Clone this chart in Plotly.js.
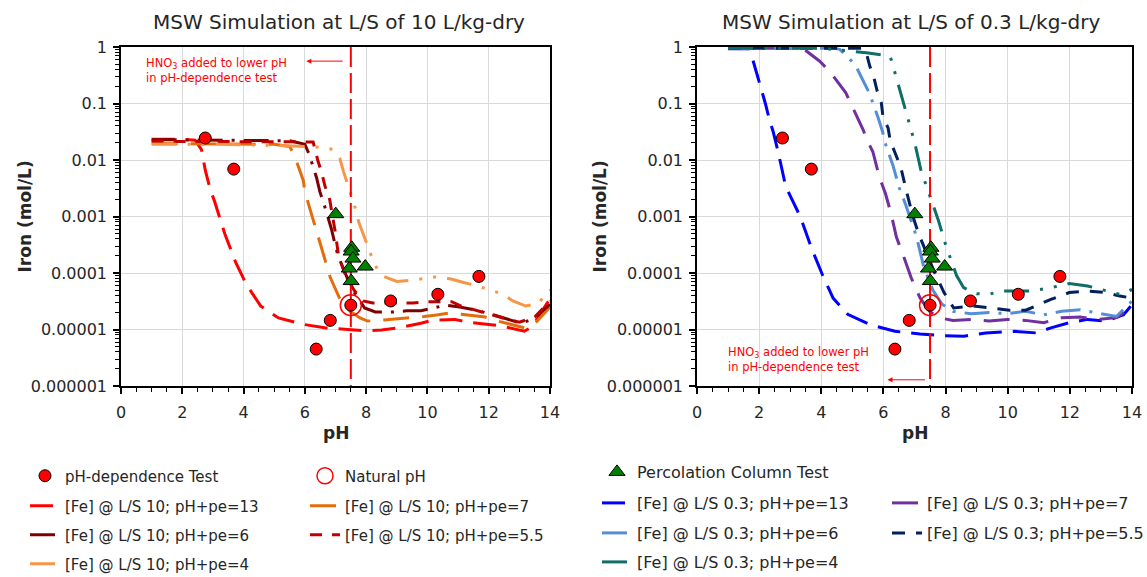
<!DOCTYPE html>
<html><head><meta charset="utf-8">
<script src="https://cdn.plot.ly/plotly-3.0.1.min.js"></script>
<style>html,body{margin:0;padding:0;background:#fff}#chart{width:1147px;height:577px}</style>
</head><body><div id="chart"></div>
<script>
// ---------- measured points ----------
const phDep_pH = [2.75, 3.68, 6.37, 6.83, 7.5, 8.8, 10.34, 11.68];
const phDep_fe = [0.0245, 0.0069, 4.5e-6, 1.45e-5, 2.7e-5, 3.2e-5, 4.2e-5, 8.7e-5];
const natural_pH = [7.5];
const natural_fe = [2.7e-5];
const perc_pH = [7.01, 7.53, 7.51, 7.57, 7.45, 7.51, 7.97];
const perc_fe = [1.1e-3, 2.8e-4, 2.4e-4, 1.8e-4, 1.2e-4, 7.2e-5, 1.3e-4];

// ---------- L/S 10 simulations ----------
const ls10_pe13_pH = [1, 2.0, 2.42, 2.63, 2.75, 2.92, 3.04, 3.39, 3.74, 4.09, 4.56, 5.14, 5.96, 6.65, 7.4, 8.0, 8.5, 9.05, 9.79, 10.16, 10.89, 11.32, 12.0, 12.42, 13.16, 13.42, 13.9, 14];
const ls10_pe13_fe = [0.0234, 0.0234, 0.0224, 0.0151, 0.0066, 0.0029, 0.00195, 0.00049, 0.000155, 6.3e-5, 2.6e-5, 1.6e-5, 1.23e-5, 1.07e-5, 1.0e-5, 9.5e-6, 9.8e-6, 1.07e-5, 1.29e-5, 1.45e-5, 1.51e-5, 1.35e-5, 1.23e-5, 1.15e-5, 9.3e-6, 1.12e-5, 2.9e-5, 3.4e-5];

const ls10_pe7_pH = [1, 3, 5.0, 5.5, 5.64, 5.8, 5.95, 6.0, 6.12, 6.25, 6.36, 6.48, 6.59, 6.83, 7.13, 7.48, 7.8, 8.05, 8.58, 9.0, 9.42, 9.89, 10.3, 10.68, 11.1, 11.5, 11.89, 12.37, 12.8, 13.16, 13.5, 14];
const ls10_pe7_fe = [0.0195, 0.0195, 0.019, 0.0174, 0.0126, 0.0074, 0.0043, 0.00275, 0.00166, 0.00098, 0.00062, 0.00037, 0.00022, 8.3e-5, 3.6e-5, 2.1e-5, 1.6e-5, 1.41e-5, 1.48e-5, 1.55e-5, 1.58e-5, 1.7e-5, 1.8e-5, 1.95e-5, 1.86e-5, 1.75e-5, 1.66e-5, 1.38e-5, 1.2e-5, 1.07e-5, 1.26e-5, 2.5e-5];

const ls10_pe6_pH = [1, 3, 5.5, 6.0, 6.14, 6.38, 6.49, 6.63, 6.86, 6.97, 7.08, 7.3, 7.51, 7.75, 7.95, 8.3, 8.53, 8.89, 9.32, 9.79, 10.2, 10.58, 11.05, 11.53, 12.1, 12.74, 13.05, 13.5, 13.9, 14];
const ls10_pe6_fe = [0.0229, 0.0224, 0.0219, 0.019, 0.0126, 0.0049, 0.00275, 0.00162, 0.00062, 0.00035, 0.000204, 0.000105, 5.5e-5, 3.55e-5, 2.4e-5, 2.04e-5, 2.04e-5, 2.04e-5, 2.14e-5, 2.14e-5, 2.4e-5, 2.7e-5, 2.5e-5, 2.24e-5, 1.86e-5, 1.48e-5, 1.29e-5, 1.58e-5, 2.5e-5, 2.8e-5];

const ls10_pe55_pH = [1, 3, 5.5, 6.27, 6.43, 6.54, 6.65, 6.81, 7.0, 7.1, 7.3, 7.6, 7.9, 8.22, 8.65, 9.16, 9.53, 10.0, 10.32, 10.79, 11.1, 11.5, 12.0, 12.5, 13.0, 13.5, 14];
const ls10_pe55_fe = [0.0214, 0.0214, 0.0214, 0.0209, 0.0095, 0.0063, 0.00355, 0.002, 0.0005, 0.0002, 0.0001, 5.0e-5, 3.2e-5, 2.95e-5, 2.95e-5, 2.95e-5, 2.95e-5, 3.1e-5, 3.1e-5, 3.1e-5, 2.6e-5, 2.24e-5, 1.9e-5, 1.58e-5, 1.35e-5, 1.66e-5, 3.2e-5];

const ls10_pe4_pH = [1, 3, 5, 6.0, 6.4, 6.84, 7.14, 7.26, 7.38, 7.51, 7.65, 7.76, 7.91, 8.06, 8.22, 8.4, 8.58, 9.0, 9.47, 10.26, 10.74, 11.18, 11.63, 12.42, 12.79, 13.21, 13.63, 13.9, 14];
const ls10_pe4_fe = [0.019, 0.019, 0.0182, 0.0174, 0.017, 0.0158, 0.0107, 0.0063, 0.004, 0.0024, 0.00138, 0.00079, 0.00048, 0.00028, 0.00017, 0.000105, 8.7e-5, 7.1e-5, 7.4e-5, 8.5e-5, 7.9e-5, 6.8e-5, 5.9e-5, 4.3e-5, 3.2e-5, 2.6e-5, 2.9e-5, 4.6e-5, 5.0e-5];

// ---------- L/S 0.3 simulations ----------
const ls03_pe13_pH = [1, 1.7, 1.81, 2.0, 2.2, 2.34, 2.45, 2.61, 2.85, 3.02, 3.33, 3.68, 4.03, 4.38, 4.85, 5.55, 6.37, 7.18, 7.89, 8.59, 9.29, 10.22, 10.92, 11.39, 11.98, 12.57, 13.15, 13.73, 14];
const ls03_pe13_fe = [0.93, 0.93, 0.56, 0.25, 0.1, 0.049, 0.032, 0.014, 0.0035, 0.0022, 0.00098, 0.00028, 9.5e-5, 3.6e-5, 1.86e-5, 1.23e-5, 9.3e-6, 8.3e-6, 7.8e-6, 7.6e-6, 8.7e-6, 9.3e-6, 8.7e-6, 1.07e-5, 1.32e-5, 1.51e-5, 1.41e-5, 1.82e-5, 2.75e-5];

const ls03_pe7_pH = [1, 3.41, 3.52, 3.95, 4.27, 4.79, 4.97, 5.34, 5.5, 5.66, 5.87, 6.07, 6.25, 6.42, 6.66, 6.89, 7.18, 7.48, 7.77, 8.24, 8.82, 9.4, 9.99, 10.57, 11.16, 11.74, 12.33, 12.91, 13.5, 14];
const ls03_pe7_fe = [0.955, 0.955, 0.85, 0.56, 0.37, 0.155, 0.095, 0.035, 0.021, 0.014, 0.005, 0.0025, 0.0011, 0.00043, 0.00019, 8.3e-5, 3.6e-5, 2.1e-5, 1.62e-5, 1.45e-5, 1.51e-5, 1.41e-5, 1.51e-5, 1.45e-5, 1.32e-5, 1.62e-5, 1.66e-5, 1.51e-5, 1.62e-5, 2.5e-5];

const ls03_pe6_pH = [1, 4.4, 4.59, 4.9, 5.13, 5.34, 5.54, 5.83, 5.97, 6.07, 6.31, 6.51, 6.72, 7.07, 7.3, 7.59, 7.89, 8.24, 8.82, 9.4, 9.99, 10.57, 11.16, 11.74, 12.33, 12.91, 13.5, 14];
const ls03_pe6_fe = [0.955, 0.955, 0.91, 0.63, 0.44, 0.26, 0.155, 0.056, 0.032, 0.019, 0.0079, 0.0032, 0.0016, 0.00043, 0.000126, 5.0e-5, 2.8e-5, 2.1e-5, 1.9e-5, 2.0e-5, 1.9e-5, 2.1e-5, 1.82e-5, 2.1e-5, 2.24e-5, 1.95e-5, 1.7e-5, 3.2e-5];

const ls03_pe55_pH = [1, 5.34, 5.45, 5.56, 5.69, 5.8, 5.93, 5.99, 6.15, 6.22, 6.36, 6.56, 6.74, 6.95, 7.13, 7.36, 7.63, 7.95, 8.26, 8.89, 9.5, 10.05, 10.58, 11.1, 11.39, 11.98, 12.57, 13.15, 13.61, 14];
const ls03_pe55_fe = [0.955, 0.955, 0.79, 0.46, 0.29, 0.166, 0.105, 0.056, 0.037, 0.022, 0.014, 0.0074, 0.0028, 0.001, 0.0005, 0.00025, 0.000107, 4.5e-5, 2.4e-5, 2.6e-5, 2.4e-5, 2.2e-5, 2.2e-5, 2.95e-5, 3.4e-5, 4.5e-5, 4.8e-5, 4.5e-5, 3.9e-5, 3.6e-5];

const ls03_pe4_pH = [1, 4.0, 5.45, 5.9, 6.2, 6.25, 6.39, 6.52, 6.63, 6.9, 7.0, 7.21, 7.48, 7.77, 8.0, 8.18, 8.35, 8.58, 9.0, 9.4, 9.79, 10.26, 10.74, 11.39, 11.98, 12.57, 13.15, 13.61, 14];
const ls03_pe4_fe = [0.955, 0.955, 0.79, 0.74, 0.69, 0.6, 0.32, 0.186, 0.11, 0.036, 0.021, 0.0065, 0.00245, 0.00085, 0.00032, 0.000166, 9.1e-5, 5.5e-5, 4.3e-5, 4.2e-5, 4.8e-5, 4.8e-5, 4.8e-5, 5.5e-5, 6.5e-5, 5.9e-5, 4.8e-5, 4.2e-5, 5.1e-5];

// ---------- axes ticks ----------
const xTickVals = [0, 2, 4, 6, 8, 10, 12, 14];
const yTickVals = [1e-6, 1e-5, 1e-4, 1e-3, 1e-2, 1e-1, 1];
const yTickText = ['0.000001', '0.00001', '0.0001', '0.001', '0.01', '0.1', '1'];
const yMinorVals = [];
for (let e = -6; e < 0; e++) for (let m = 2; m <= 9; m++) yMinorVals.push(m * Math.pow(10, e));

const FONT = 'DejaVu Sans';
const TXT = '#262626';

function line(x, y, name, color, dash, xa, ya, legend) {
  return {type: 'scatter', mode: 'lines', x: x, y: y, name: name, xaxis: xa, yaxis: ya, legend: legend,
    line: {color: color, width: 3, dash: dash}, hoverinfo: 'x+y+name'};
}
const D13 = '23px,11px', D7 = '26px,13px', D6 = '25px,9px,3px,9px', D55 = '12px,10px', D4 = '25px,11px,3px,11px,3px,11px';

const vLine = (xa, ya) => ({type: 'scatter', mode: 'lines', x: [natural_pH[0], natural_pH[0]], y: [1, 1e-6],
  xaxis: xa, yaxis: ya, showlegend: false, line: {color: '#FF0000', width: 2, dash: '20px,6px'}, hoverinfo: 'skip'});
const dep = (xa, ya, show) => ({type: 'scatter', mode: 'markers', x: phDep_pH, y: phDep_fe, name: 'pH-dependence Test',
  xaxis: xa, yaxis: ya, showlegend: show, legend: 'legend',
  marker: {symbol: 'circle', size: 12, color: '#FF0000', line: {color: '#000', width: 1}}});
const nat = (xa, ya, show) => ({type: 'scatter', mode: 'markers', x: natural_pH, y: natural_fe, name: 'Natural pH',
  xaxis: xa, yaxis: ya, showlegend: show, legend: 'legend',
  marker: {symbol: 'circle-open', size: 21, color: '#FF0000', line: {color: '#FF0000', width: 1.5}}});
const perc = (xa, ya, show) => ({type: 'scatter', mode: 'markers', x: perc_pH, y: perc_fe, name: 'Percolation Column Test',
  xaxis: xa, yaxis: ya, showlegend: show, legend: 'legend5',
  marker: {symbol: 'triangle-up', size: 14, color: '#008000', line: {color: '#000', width: 1}}});

const data = [
  line(ls10_pe13_pH, ls10_pe13_fe, '[Fe] @ L/S 10; pH+pe=13', '#FF0000', D13, 'x', 'y', 'legend2'),
  line(ls10_pe7_pH, ls10_pe7_fe, '[Fe] @ L/S 10; pH+pe=7', '#E46C0A', D7, 'x', 'y', 'legend2'),
  line(ls10_pe6_pH, ls10_pe6_fe, '[Fe] @ L/S 10; pH+pe=6', '#7F0000', D6, 'x', 'y', 'legend3'),
  line(ls10_pe55_pH, ls10_pe55_fe, '[Fe] @ L/S 10; pH+pe=5.5', '#C00000', D55, 'x', 'y', 'legend3'),
  line(ls10_pe4_pH, ls10_pe4_fe, '[Fe] @ L/S 10; pH+pe=4', '#F79646', D4, 'x', 'y', 'legend4'),
  vLine('x', 'y'),
  perc('x', 'y', false),
  dep('x', 'y', true),
  nat('x', 'y', true),
  line(ls03_pe13_pH, ls03_pe13_fe, '[Fe] @ L/S 0.3; pH+pe=13', '#0000FF', D13, 'x2', 'y2', 'legend6'),
  line(ls03_pe7_pH, ls03_pe7_fe, '[Fe] @ L/S 0.3; pH+pe=7', '#7030A0', D7, 'x2', 'y2', 'legend6'),
  line(ls03_pe6_pH, ls03_pe6_fe, '[Fe] @ L/S 0.3; pH+pe=6', '#558ED5', D6, 'x2', 'y2', 'legend7'),
  line(ls03_pe55_pH, ls03_pe55_fe, '[Fe] @ L/S 0.3; pH+pe=5.5', '#002060', '13px,11px', 'x2', 'y2', 'legend7'),
  line(ls03_pe4_pH, ls03_pe4_fe, '[Fe] @ L/S 0.3; pH+pe=4', '#0F6E68', D4, 'x2', 'y2', 'legend8'),
  vLine('x2', 'y2'),
  perc('x2', 'y2', true),
  dep('x2', 'y2', false),
  nat('x2', 'y2', false)
];

const W = 1147, H = 577;
const px = v => v / W, py = v => 1 - v / H;
const yDom = [py(386), py(47)];

function xAxis(dom, anchor) {
  return {domain: dom, anchor: anchor, range: [0, 14], tickmode: 'array', tickvals: xTickVals,
    showgrid: true, gridcolor: '#D9D9D9', gridwidth: 1, zeroline: false,
    showline: true, linecolor: '#000', linewidth: 1.5, mirror: true,
    ticks: 'outside', ticklen: 6, tickwidth: 1.5, tickcolor: '#000', ticklabelstandoff: 5,
    tickfont: {family: FONT, size: 16, color: TXT},
    minor: {dtick: 0.5, tick0: 0, ticks: 'outside', ticklen: 4, tickwidth: 1, tickcolor: '#000', showgrid: false}};
}
function yAxis(anchor) {
  return {domain: yDom, anchor: anchor, type: 'log', range: [-6, 0], tickmode: 'array', tickvals: yTickVals, ticktext: yTickText,
    showgrid: true, gridcolor: '#D9D9D9', gridwidth: 1, zeroline: false,
    showline: true, linecolor: '#000', linewidth: 1.5, mirror: true,
    ticks: 'outside', ticklen: 6, tickwidth: 1.5, tickcolor: '#000', ticklabelstandoff: 3,
    tickfont: {family: FONT, size: 16, color: TXT},
    minor: {tickmode: 'array', tickvals: yMinorVals, ticks: 'outside', ticklen: 4, tickwidth: 1, tickcolor: '#000', showgrid: false}};
}
function leg(x, y, ew, fs) {
  return {orientation: 'h', x: px(x), y: py(y), xanchor: 'left', yanchor: 'middle', xref: 'paper', yref: 'paper',
    entrywidth: ew, entrywidthmode: 'pixels', bgcolor: 'rgba(0,0,0,0)', borderwidth: 0,
    font: {family: FONT, size: fs, color: TXT}, itemclick: false, itemdoubleclick: false};
}

const ann = [];
const title = (x, t) => ({xref: 'paper', yref: 'paper', x: px(x), y: py(22), text: t, showarrow: false,
  xanchor: 'center', yanchor: 'middle', font: {family: FONT, size: 20, color: TXT}});
ann.push(title(339, 'MSW Simulation at L/S of 10 L/kg-dry'));
ann.push(title(911, 'MSW Simulation at L/S of 0.3 L/kg-dry'));
const ytitle = x => ({xref: 'paper', yref: 'paper', x: px(x), y: py(216.5), text: '<b>Iron (mol/L)</b>', textangle: -90,
  showarrow: false, xanchor: 'center', yanchor: 'middle', font: {family: FONT, size: 17, color: TXT}});
ann.push(ytitle(25), ytitle(600));
const xtitle = x => ({xref: 'paper', yref: 'paper', x: px(x), y: py(433), text: '<b>pH</b>', showarrow: false,
  xanchor: 'center', yanchor: 'middle', font: {family: FONT, size: 17, color: TXT}});
ann.push(xtitle(335.5), xtitle(914.5));
const noteText = 'HNO<sub>3</sub> added to lower pH<br>in pH-dependence test';
ann.push({xref: 'x', yref: 'y', x: 0.76, y: -0.41, text: noteText, showarrow: false, xanchor: 'left', yanchor: 'middle',
  align: 'left', font: {family: FONT, size: 11.5, color: '#FF0000'}});
ann.push({xref: 'x', yref: 'y', x: 6.05, y: -0.25, axref: 'x', ayref: 'y', ax: 7.35, ay: -0.25, text: ' ', showarrow: true,
  arrowhead: 2, arrowsize: 1, arrowwidth: 1, arrowcolor: '#FF0000'});
ann.push({xref: 'x2', yref: 'y2', x: 0.92, y: -5.53, text: noteText, showarrow: false, xanchor: 'left', yanchor: 'middle',
  align: 'left', font: {family: FONT, size: 11.5, color: '#FF0000'}});
ann.push({xref: 'x2', yref: 'y2', x: 6.13, y: -5.89, axref: 'x2', ayref: 'y2', ax: 7.45, ay: -5.89, text: ' ', showarrow: true,
  arrowhead: 2, arrowsize: 1, arrowwidth: 1, arrowcolor: '#FF0000'});

const layout = {
  width: W, height: H, margin: {l: 0, r: 0, t: 0, b: 0, autoexpand: false}, paper_bgcolor: '#fff', plot_bgcolor: '#fff',
  font: {family: FONT, color: TXT}, showlegend: true,
  xaxis: xAxis([px(121), px(550)], 'y'), yaxis: yAxis('x'),
  xaxis2: xAxis([px(697), px(1132)], 'y2'), yaxis2: yAxis('x2'),
  legend: leg(25, 476, 235, 15), legend2: leg(25, 506, 235, 15), legend3: leg(25, 535, 235, 15), legend4: leg(25, 564, 235, 15),
  legend5: leg(597, 472, 245, 16), legend6: leg(597, 503, 245, 16), legend7: leg(597, 533, 245, 16), legend8: leg(597, 562, 245, 16),
  annotations: ann
};
Plotly.newPlot('chart', data, layout, {displayModeBar: false, responsive: false});
</script></body></html>
